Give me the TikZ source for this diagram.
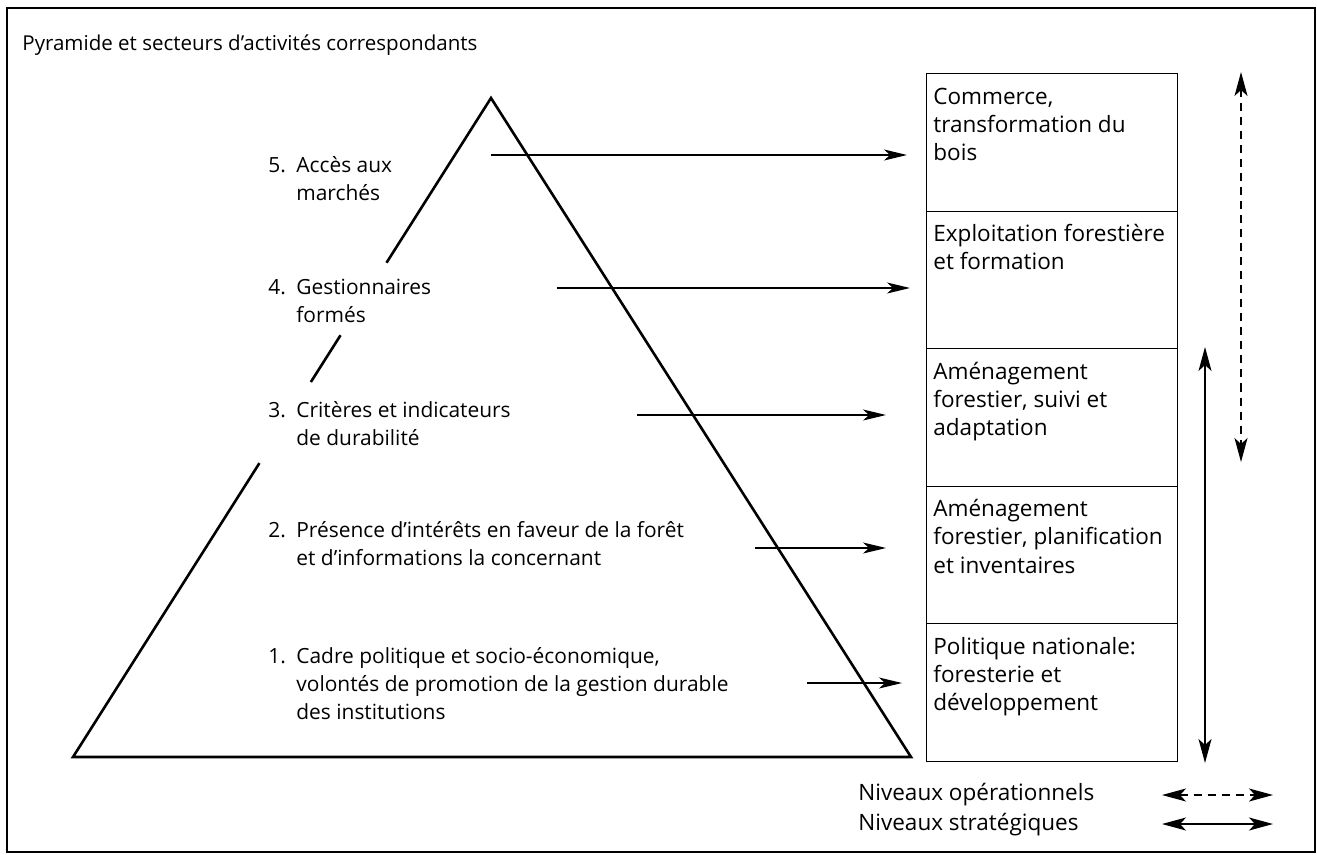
\documentclass[tikz,border=0pt]{standalone}
\usepackage{fontspec}
\setmainfont{Open Sans}
\usetikzlibrary{arrows.meta,calc}

\begin{document}
\begin{tikzpicture}[x=0.5bp, y=-0.5bp, font=\fontsize{10.5}{14.25}\selectfont]
\tikzstyle{frame}=[line width=0.8bp]
\tikzstyle{pyr}=[line width=1.3bp, line join=miter]
\tikzstyle{sector}=[draw, line width=0.7bp, anchor=north west, minimum width=125.5bp, minimum height=68.75bp, inner sep=0pt]
\tikzstyle{sectxt}=[anchor=base west, inner sep=0pt, font=\fontsize{11.3}{14.25}\selectfont]
\tikzstyle{level}=[anchor=base west, inner sep=0pt]
\tikzstyle{legend}=[anchor=west, inner sep=0pt, font=\fontsize{11.3}{14.25}\selectfont]
\tikzstyle{pointer}=[line width=0.6bp, -{Stealth[length=11.5bp, width=5.5bp, inset=3bp]}]
\tikzstyle{span}=[line width=0.6bp, {Stealth[length=12bp, width=6.5bp, inset=3bp]}-{Stealth[length=12bp, width=6.5bp, inset=3bp]}]
\tikzstyle{oper}=[span, dash pattern=on 4bp off 3bp]

\useasboundingbox (0,0) rectangle (1317,854);
\draw[frame] (7,8) rectangle (1315,852);

\node[anchor=west, inner sep=0pt, font=\fontsize{10.3}{12}\selectfont] (title) at (22,45) {Pyramide et secteurs d’activités correspondants};

% pyramid
\coordinate (apex) at (491,98);
\coordinate (baseL) at (73,757);
\coordinate (baseR) at (911,757);
\draw[pyr] ($(apex)!0.554!(baseL)$) -- (baseL) -- (baseR) -- (apex) -- ($(apex)!0.25!(baseL)$);
\draw[pyr] ($(apex)!0.36!(baseL)$) -- ($(apex)!0.431!(baseL)$);

% levels
\node[level] (l5) at (268,172) {\begin{tabular}[t]{@{}p{14bp}@{}l@{}}5. & Accès aux\\ & marchés\end{tabular}};
\node[level] (l4) at (268,294) {\begin{tabular}[t]{@{}p{14bp}@{}l@{}}4. & Gestionnaires\\ & formés\end{tabular}};
\node[level] (l3) at (268,417) {\begin{tabular}[t]{@{}p{14bp}@{}l@{}}3. & Critères et indicateurs\\ & de durabilité\end{tabular}};
\node[level] (l2) at (268,537) {\begin{tabular}[t]{@{}p{14bp}@{}l@{}}2. & Présence d’intérêts en faveur de la forêt\\ & et d’informations la concernant\end{tabular}};
\node[level] (l1) at (268,663) {\begin{tabular}[t]{@{}p{14bp}@{}l@{}}1. & Cadre politique et socio-économique,\\ & volontés de promotion de la gestion durable\\ & des institutions\end{tabular}};

% sectors
\node[sector] (b5) at (926,73) {};
\node[sector] (b4) at (926,210.5) {};
\node[sector] (b3) at (926,348) {};
\node[sector] (b2) at (926,485.5) {};
\node[sector] (b1) at (926,623) {};
\node[sectxt] (t5) at ($(b5.north west)+(7,31)$) {\begin{tabular}[t]{@{}l@{}}Commerce,\\transformation du\\bois\end{tabular}};
\node[sectxt] (t4) at ($(b4.north west)+(7,31)$) {\begin{tabular}[t]{@{}l@{}}Exploitation forestière\\et formation\end{tabular}};
\node[sectxt] (t3) at ($(b3.north west)+(7,31)$) {\begin{tabular}[t]{@{}l@{}}Aménagement\\forestier, suivi et\\adaptation\end{tabular}};
\node[sectxt] (t2) at ($(b2.north west)+(7,31)$) {\begin{tabular}[t]{@{}l@{}}Aménagement\\forestier, planification\\et inventaires\end{tabular}};
\node[sectxt] (t1) at ($(b1.north west)+(7,31)$) {\begin{tabular}[t]{@{}l@{}}Politique nationale:\\foresterie et\\développement\end{tabular}};

% level -> sector
\coordinate (s5) at (491,155); \coordinate (e5) at (907,155);
\coordinate (s4) at (557,288); \coordinate (e4) at (910,288);
\coordinate (s3) at (637,415); \coordinate (e3) at (886,415);
\coordinate (s2) at (755,548); \coordinate (e2) at (886,548);
\coordinate (s1) at (807,683); \coordinate (e1) at (902,683);
\draw[pointer] (s5) -- (e5);
\draw[pointer] (s4) -- (e4);
\draw[pointer] (s3) -- (e3);
\draw[pointer] (s2) -- (e2);
\draw[pointer] (s1) -- (e1);

% ranges
\coordinate (optop) at (1241,72); \coordinate (opbot) at (1241,462);
\coordinate (sttop) at (1205,347); \coordinate (stbot) at (1205,763);
\draw[oper] (optop) -- (opbot);
\draw[span] (sttop) -- (stbot);

% legend
\node[legend] (legop) at (858,795) {Niveaux opérationnels};
\node[legend] (legst) at (858,825) {Niveaux stratégiques};
\coordinate (opl) at (1162,795); \coordinate (opr) at (1273,795);
\coordinate (stl) at (1162,824); \coordinate (str) at (1273,824);
\draw[oper] (opl) -- (opr);
\draw[span] (stl) -- (str);
\end{tikzpicture}
\end{document}
